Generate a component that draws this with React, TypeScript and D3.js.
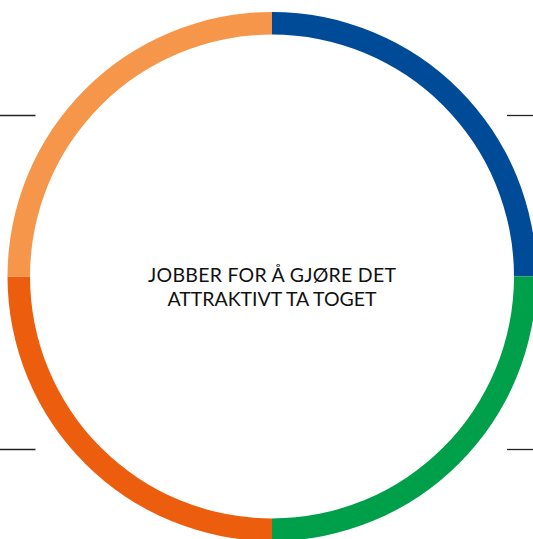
import React from "react";
import * as d3 from "d3";

const segments = ["Blå", "Grønn", "Oransje", "Lys oransje"];
const values = [1, 1, 1, 1];
const colors = ["#004B97", "#00A04B", "#EC5D0E", "#F5964A"];
const titleLines = ["JOBBER FOR Å GJØRE DET", "ATTRAKTIVT TA TOGET"];
const titleWidths = [248, 209];
const markerYs = [115.5, 449.5];

export default function App() {
  const W = 533;
  const H = 539;
  const cx = 272;
  const cy = 276.5;
  const rIn = 242;
  const rOut = 264.5;

  const pie = d3.pie<number>().sort(null).value((d) => d);
  const arcs = pie(values);
  const arc = d3.arc<d3.PieArcDatum<number>>().innerRadius(rIn).outerRadius(rOut);

  return (
    <svg
      width={W}
      height={H}
      style={{ position: "absolute", left: 0, top: 0, background: "#fff" }}
    >
      <g transform={`translate(${cx},${cy})`}>
        {arcs.map((a, i) => (
          <path key={segments[i]} d={arc(a) || ""} fill={colors[i]} />
        ))}
      </g>
      {markerYs.map((y) => (
        <g key={y}>
          <line x1={0} x2={35.5} y1={y} y2={y} stroke="#222" strokeWidth={1.3} />
          <line x1={507} x2={533} y1={y} y2={y} stroke="#222" strokeWidth={1.3} />
        </g>
      ))}
      {titleLines.map((t, i) => (
        <text
          key={t}
          x={cx - titleWidths[i] / 2}
          y={281.5 + i * 24.5}
          fontFamily="Lato, 'Open Sans', sans-serif"
          fontSize={19.5}
          fill="#111"
          textLength={titleWidths[i]}
          lengthAdjust="spacing"
        >
          {t}
        </text>
      ))}
    </svg>
  );
}
